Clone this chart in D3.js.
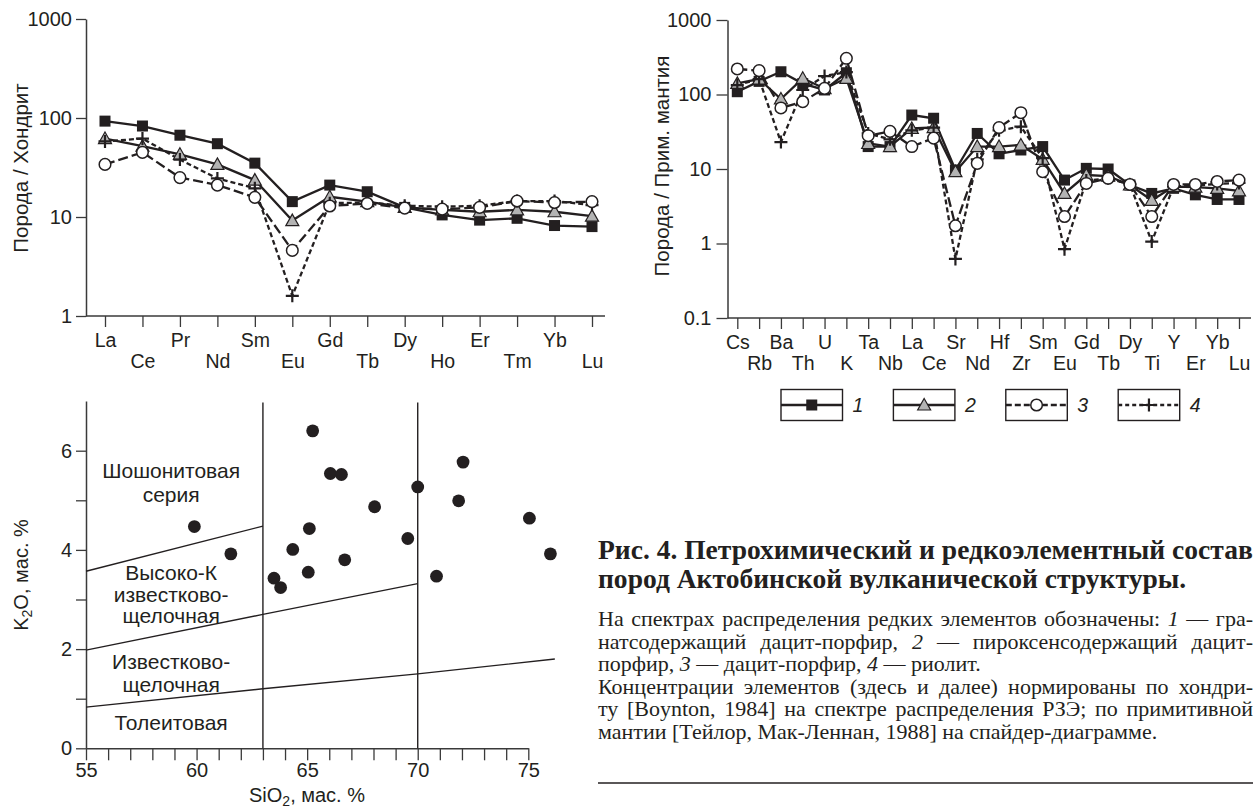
<!DOCTYPE html>
<html>
<head>
<meta charset="utf-8">
<script src="https://cdn.jsdelivr.net/npm/d3@7"></script>
<style>
  body { margin: 0; background: #fff; }
  svg text { font-family: "Liberation Sans", Arial, sans-serif; fill: #231f20; }
  svg text.serif { font-family: "Liberation Serif", "Times New Roman", serif; }
</style>
</head>
<body>
<svg id="fig" width="1259" height="812"></svg>
<script>
// REE spectrum (chondrite normalised)
const reeElements = ["La", "Ce", "Pr", "Nd", "Sm", "Eu", "Gd", "Tb", "Dy", "Ho", "Er", "Tm", "Yb", "Lu"]
const ree1 = [93, 83, 67, 55, 35, 14.3, 21, 18, 12.5, 10.5, 9.3, 9.7, 8.2, 8.0]
const ree2 = [62, 52, 43, 34, 23.6, 9.2, 16, 14.3, 12.5, 11.8, 11.3, 11.8, 11.3, 10.2]
const ree3 = [34, 45, 25, 21, 15.8, 4.6, 12.9, 13.7, 12.3, 12, 12.5, 14.5, 14, 14.3]
const ree4 = [58, 62, 38, 24.5, 19.5, 1.6, 13.8, 14, 13, 12.7, 13, 14.5, 14.5, 13.2]
const reeTicks = [1, 10, 100, 1000]

// spider diagram (primitive mantle normalised)
const spiderElements = ["Cs", "Rb", "Ba", "Th", "U", "K", "Ta", "Nb", "La", "Ce", "Sr", "Nd",
  "Hf", "Zr", "Sm", "Eu", "Gd", "Tb", "Dy", "Ti", "Y", "Er", "Yb", "Lu"]
const spider1 = [109, 150, 202, 140, 115, 196, 20, 20, 53, 48, 9.7, 30, 16, 18, 20, 7.1, 10.2, 10, 6.1, 4.7, 5.5, 4.5, 3.9, 3.9]
const spider2 = [141, 161, 87, 165, 120, 165, 22, 20, 35, 36, 9.2, 20, 20, 21, 13.5, 4.7, 8.3, 8, 6.1, 3.8, 5.8, 5.7, 5.5, 5.1]
const spider3 = [220, 209, 66, 80, 121, 306, 28, 32, 20, 26, 1.73, 11.9, 36, 57, 9.2, 2.3, 6.4, 7.5, 6.2, 2.3, 6.2, 6.2, 6.8, 7.1]
const spider4 = [134, 161, 23, 115, 177, 200, 30, 25, 33, 36, 0.62, 13.5, 33, 37, 14, 0.84, 7, 7.5, 6.2, 1.06, 5.8, 6, 6.3, 6.5]
const spiderTicks = [0.1, 1, 10, 100, 1000]

// K2O - SiO2 diagram
const sio2 = [59.9, 61.55, 63.5, 63.8, 64.35, 65.05, 65.1, 65.25, 66.05, 66.55, 66.7, 68.05, 69.55, 70, 70.85, 71.85, 72.05, 75.05, 76]
const k2o = [4.47, 3.92, 3.43, 3.24, 4.01, 3.55, 4.43, 6.4, 5.54, 5.52, 3.8, 4.87, 4.23, 5.27, 3.47, 4.99, 5.77, 4.64, 3.92]
const shoshoniteLine = [[55, 3.57], [63, 4.48]]
const highKLine = [[55, 1.98], [63, 2.7], [70, 3.32]]
const calcAlkLine = [[55, 0.83], [63, 1.2], [70, 1.5], [76.2, 1.8]]
const dividers = [63, 70]
const sio2Ticks = [55, 60, 65, 70, 75]
const k2oTicks = [0, 2, 4, 6]

const seriesLabels = ["1", "2", "3", "4"]
const regionShosh = ["Шошонитовая", "серия"]
const regionHighK = ["Высоко-К", "известково-", "щелочная"]
const regionCalc = ["Известково-", "щелочная"]
const regionThol = ["Толеитовая"]

const ink = "#231f20"
const svg = d3.select("#fig")
svg.append("rect").attr("width", 1259).attr("height", 812).attr("fill", "#fff")

const styles = [
  { dash: null, marker: "square" },
  { dash: null, marker: "triangle" },
  { dash: "10,4", marker: "circle" },
  { dash: "5,3", marker: "plus" }
]

function drawMarker(g, type) {
  if (type == "square") {
    g.append("rect").attr("x", -5.5).attr("y", -5.5).attr("width", 11).attr("height", 11).attr("fill", ink)
  }
  if (type == "triangle") {
    g.append("path").attr("d", "M0,-6.5L6.5,5L-6.5,5Z").attr("fill", "#b3b3b3").attr("stroke", ink).attr("stroke-width", 1.2)
  }
  if (type == "circle") {
    g.append("circle").attr("r", 5.8).attr("fill", "#fff").attr("stroke", ink).attr("stroke-width", 1.5)
  }
  if (type == "plus") {
    g.append("path").attr("d", "M-6.5,0H6.5M0,-6.5V6.5").attr("stroke", ink).attr("stroke-width", 2.2)
  }
}

function styleAxis(g, size) {
  g.select(".domain").attr("stroke", "#3a3a3a").attr("stroke-width", 1.5)
  g.selectAll(".tick line").attr("stroke", "#3a3a3a").attr("stroke-width", 1.3)
  g.selectAll(".tick text").attr("fill", ink).style("font-size", size + "px")
    .style("font-family", '"Liberation Sans", Arial, sans-serif')
}

function spectrum(elements, seriesValues, x, y, xLeft, xRight, yBottom) {
  // x axis line and ticks with staggered labels
  svg.append("line").attr("x1", xLeft).attr("x2", xRight).attr("y1", yBottom).attr("y2", yBottom)
    .attr("stroke", "#3a3a3a").attr("stroke-width", 1.5)
  const xg = svg.append("g").attr("transform", "translate(0," + yBottom + ")")
    .call(d3.axisBottom(x).tickSize(11).tickSizeOuter(0))
  xg.select(".domain").remove()
  styleAxis(xg, 19.5)
  xg.selectAll(".tick text").attr("y", (d, i) => i % 2 ? 38 : 17)

  const lines = svg.append("g")
  seriesValues.forEach((vals, s) => {
    lines.append("path").datum(vals)
      .attr("d", d3.line().x((d, i) => x(elements[i])).y(d => y(d)))
      .attr("fill", "none").attr("stroke", ink).attr("stroke-width", 2.3)
      .attr("stroke-dasharray", styles[s].dash)
  })
  const order = [0, 1, 3, 2]
  order.forEach(s => {
    seriesValues[s].forEach((v, i) => {
      const g = svg.append("g").attr("transform", "translate(" + x(elements[i]) + "," + y(v) + ")")
      drawMarker(g, styles[s].marker)
    })
  })
}

function yTitle(text, cx, cy) {
  svg.append("text").attr("transform", "translate(" + cx + "," + cy + ") rotate(-90)")
    .attr("text-anchor", "middle").attr("dy", "0.35em").style("font-size", "20.5px").text(text)
}

// ---------- REE chart
const xRee = d3.scalePoint().domain(reeElements).range([105, 592])
const yRee = d3.scaleLog().domain([1, 1000]).range([316, 19])
const yReeAxis = svg.append("g").attr("transform", "translate(86,0)")
  .call(d3.axisLeft(yRee).tickValues(reeTicks).tickFormat(d => d).tickSize(10).tickPadding(4).tickSizeOuter(0))
styleAxis(yReeAxis, 20)
spectrum(reeElements, [ree1, ree2, ree3, ree4], xRee, yRee, 86, 605, 316)
yTitle("Порода / Хондрит", 21, 168)

// ---------- spider chart
const xSp = d3.scalePoint().domain(spiderElements).range([737.3, 1239])
const ySp = d3.scaleLog().domain([0.1, 1000]).range([318, 20])
const ySpAxis = svg.append("g").attr("transform", "translate(727.5,0)")
  .call(d3.axisLeft(ySp).tickValues(spiderTicks).tickFormat(d => d).tickSize(11).tickPadding(5).tickSizeOuter(0))
styleAxis(ySpAxis, 20)
spectrum(spiderElements, [spider1, spider2, spider3, spider4], xSp, ySp, 727.5, 1251, 318)
yTitle("Порода / Прим. мантия", 662, 166)

// ---------- legend
seriesLabels.forEach((lab, i) => {
  const bx = 781 + i * 112.4, by = 389.5, bw = 61.5, bh = 31
  svg.append("rect").attr("x", bx).attr("y", by).attr("width", bw).attr("height", bh)
    .attr("fill", "#fff").attr("stroke", ink).attr("stroke-width", 1.4)
  svg.append("line").attr("x1", bx).attr("x2", bx + bw).attr("y1", by + bh / 2).attr("y2", by + bh / 2)
    .attr("stroke", ink).attr("stroke-width", 2.3).attr("stroke-dasharray", styles[i].dash ? (i == 2 ? "6,3" : "4,3") : null)
  const g = svg.append("g").attr("transform", "translate(" + (bx + bw / 2) + "," + (by + bh / 2) + ")")
  drawMarker(g, styles[i].marker)
  svg.append("text").attr("x", bx + bw + 10).attr("y", by + bh / 2 + 7)
    .style("font-size", "19.5px").style("font-style", "italic").text(lab)
})

// ---------- K2O vs SiO2
const xSc = d3.scaleLinear().domain([55, 75]).range([86, 528.3])
const ySc = d3.scaleLinear().domain([0, 7]).range([748.3, 401.1])
const xScAxis = svg.append("g").attr("transform", "translate(0,748.3)")
  .call(d3.axisBottom(xSc).tickValues(d3.range(55, 76)).tickFormat(d => sio2Ticks.includes(d) ? d : "")
    .tickSize(12).tickPadding(3).tickSizeOuter(0))
styleAxis(xScAxis, 20)
const yScAxis = svg.append("g").attr("transform", "translate(86,0)")
  .call(d3.axisLeft(ySc).tickValues(d3.range(0, 7)).tickFormat(d => k2oTicks.includes(d) ? d : "")
    .tickSize(10).tickPadding(4).tickSizeOuter(0))
styleAxis(yScAxis, 20)

const bLine = d3.line().x(d => xSc(d[0])).y(d => ySc(d[1]))
;[shoshoniteLine, highKLine, calcAlkLine].forEach(l => {
  svg.append("path").datum(l).attr("d", bLine).attr("fill", "none").attr("stroke", ink).attr("stroke-width", 1.4)
})
dividers.forEach(v => {
  svg.append("line").attr("x1", xSc(v)).attr("x2", xSc(v)).attr("y1", ySc(6.97)).attr("y2", ySc(0))
    .attr("stroke", ink).attr("stroke-width", 1.4)
})

svg.append("g").selectAll("circle").data(sio2).enter().append("circle")
  .attr("cx", d => xSc(d)).attr("cy", (d, i) => ySc(k2o[i])).attr("r", 6.4).attr("fill", ink)

function regionLabel(lines, k, step) {
  lines.forEach((t, i) => {
    svg.append("text").attr("x", xSc(58.85)).attr("y", ySc(k) + i * step).attr("dy", "0.35em")
      .attr("text-anchor", "middle").style("font-size", "21px").text(t)
  })
}
regionLabel(regionShosh, 5.6, 24)
regionLabel(regionHighK, 3.54, 21.5)
regionLabel(regionCalc, 1.75, 23)
regionLabel(regionThol, 0.52, 0)

const k2oT = svg.append("text").attr("transform", "translate(21,575) rotate(-90)")
  .attr("text-anchor", "middle").attr("dy", "0.35em").style("font-size", "20px")
k2oT.append("tspan").text("K")
k2oT.append("tspan").attr("dy", 4).style("font-size", "14px").text("2")
k2oT.append("tspan").attr("dy", -4).text("O, мас. %")

const sioT = svg.append("text").attr("x", 307).attr("y", 802).attr("text-anchor", "middle").style("font-size", "20px")
sioT.append("tspan").text("SiO")
sioT.append("tspan").attr("dy", 4).style("font-size", "14px").text("2")
sioT.append("tspan").attr("dy", -4).text(", мас. %")

// ---------- caption
const capX = 598, capW = 655
const t1 = svg.append("text").attr("class", "serif").attr("x", capX).attr("y", 559)
  .style("font-size", "24px").style("font-weight", "bold").text("Рис. 4. Петрохимический и редкоэлементный состав")
const titleSize = 24 * capW / t1.node().getComputedTextLength()
t1.style("font-size", titleSize + "px")
svg.append("text").attr("class", "serif").attr("x", capX).attr("y", 588)
  .style("font-size", titleSize + "px").style("font-weight", "bold").text("пород Актобинской вулканической структуры.")

const bodyLines = [
  [["На спектрах распределения редких элементов обозначены: "], ["1", 1], [" — гра-"]],
  [["натсодержащий дацит-порфир, "], ["2", 1], [" — пироксенсодержащий дацит-"]],
  [["порфир, "], ["3", 1], [" — дацит-порфир, "], ["4", 1], [" — риолит."]],
  [["Концентрации элементов (здесь и далее) нормированы по хондри-"]],
  [["ту [Boynton, 1984] на спектре распределения РЗЭ; по примитивной"]],
  [["мантии [Тейлор, Мак-Леннан, 1988] на спайдер-диаграмме."]]
]
const justified = [true, true, false, true, true, false]
const bodySize = 22
bodyLines.forEach((segs, i) => {
  const t = svg.append("text").attr("class", "serif").attr("x", capX).attr("y", 626 + i * 22.5)
    .style("font-size", bodySize + "px")
  segs.forEach(s => {
    t.append("tspan").style("font-style", s[1] ? "italic" : null).text(s[0])
  })
  if (justified[i]) {
    // justify by stretching the word gaps
    const len = t.node().getComputedTextLength()
    const gaps = segs.map(s => s[0]).join("").split(" ").length - 1
    t.style("word-spacing", ((capW - len) / gaps) + "px")
  }
})
svg.append("line").attr("x1", capX).attr("x2", capX + capW).attr("y1", 783).attr("y2", 783)
  .attr("stroke", ink).attr("stroke-width", 1.3)
</script>
</body>
</html>
